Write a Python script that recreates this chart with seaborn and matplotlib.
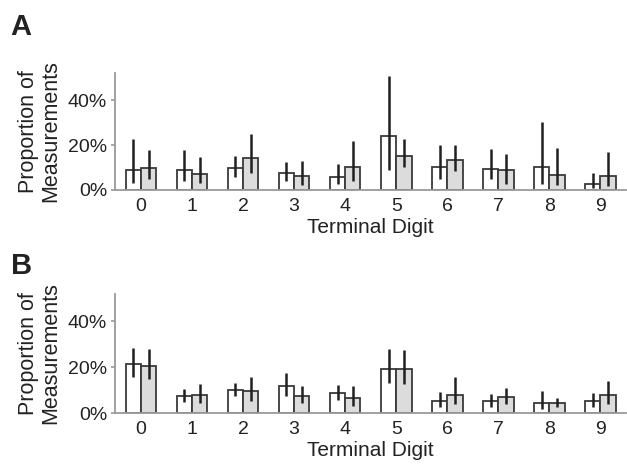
import numpy as np
import pandas as pd
import matplotlib
matplotlib.use("Agg")
import matplotlib.pyplot as plt
import seaborn as sns
from matplotlib.ticker import FixedLocator, PercentFormatter

digits = [str(d) for d in range(10)]
groups = ["white", "grey"]

# Panel A (percent)
a_white = [8.9, 8.9, 9.7, 7.4, 5.8, 24.1, 10.4, 9.4, 10.0, 2.8]
a_white_lo = [3.0, 4.2, 5.7, 4.2, 2.7, 8.9, 4.9, 4.8, 2.5, 1.0]
a_white_hi = [22.6, 17.9, 14.9, 12.4, 11.6, 50.9, 20.2, 18.2, 30.1, 7.6]
a_grey = [9.7, 7.0, 14.4, 6.4, 10.0, 15.3, 13.2, 8.8, 6.8, 6.1]
a_grey_lo = [4.8, 3.0, 7.7, 2.2, 4.0, 10.0, 8.6, 2.5, 2.2, 1.9]
a_grey_hi = [17.9, 14.6, 25.0, 13.1, 21.6, 22.8, 19.8, 15.9, 18.6, 17.1]

# Panel B (percent)
b_white = [21.5, 7.3, 10.2, 11.8, 8.6, 19.4, 5.1, 5.1, 4.4, 5.1]
b_white_lo = [15.6, 4.7, 7.3, 7.3, 5.7, 13.1, 2.5, 2.8, 1.8, 2.8]
b_white_hi = [28.3, 10.5, 13.0, 17.4, 12.3, 27.7, 9.3, 8.3, 9.5, 8.6]
b_grey = [20.7, 7.9, 9.5, 7.6, 6.6, 19.0, 7.9, 6.9, 4.4, 7.9]
b_grey_lo = [14.9, 4.4, 5.4, 4.4, 3.2, 12.7, 3.9, 3.9, 2.9, 3.9]
b_grey_hi = [28.0, 12.7, 15.6, 11.7, 12.0, 27.4, 15.9, 10.8, 6.6, 14.2]

panels = [
    ("A", a_white, a_white_lo, a_white_hi, a_grey, a_grey_lo, a_grey_hi),
    ("B", b_white, b_white_lo, b_white_hi, b_grey, b_grey_lo, b_grey_hi),
]

sns.set_style("white")
plt.rcParams["font.family"] = ["Liberation Sans", "DejaVu Sans"]

fig = plt.figure(figsize=(6.27, 4.69), dpi=100)
axes_rects = [[0.1842, 0.595, 0.814, 0.249], [0.1842, 0.119, 0.814, 0.255]]
letter_y = [0.942, 0.433]

spine_col = "#9a9a9a"
edge_col = "#3a3a3a"
text_col = "#222222"

for (label, w, wlo, whi, g, glo, ghi), rect, ly in zip(panels, axes_rects, letter_y):
    ax = fig.add_axes(rect)
    df = pd.DataFrame({
        "digit": digits * 2,
        "group": ["white"] * 10 + ["grey"] * 10,
        "value": list(w) + list(g),
    })
    sns.barplot(data=df, x="digit", y="value", hue="group", order=digits,
                hue_order=groups, palette={"white": "white", "grey": "#dcdcdc"},
                width=0.6, errorbar=None, edgecolor=edge_col, linewidth=1.3,
                legend=False, ax=ax)
    # error bars placed at the bar centres
    for cont, lo, hi in zip(ax.containers, [wlo, glo], [whi, ghi]):
        xs = [p.get_x() + p.get_width() / 2 for p in cont.patches]
        ax.vlines(xs, lo, hi, color="#202020", linewidth=1.8, zorder=5)
    ax.set_ylim(0, 52)
    ax.set_xlim(-0.5, 9.5)
    ax.set_yticks([0, 20, 40])
    ax.yaxis.set_major_formatter(PercentFormatter(decimals=0))
    ax.xaxis.set_minor_locator(FixedLocator(np.arange(-0.5, 9.6, 1.0)))
    ax.tick_params(axis="x", which="major", length=0, labelsize=14, pad=5.5, colors=text_col)
    ax.tick_params(axis="x", which="minor", length=3.5, width=1.2, color=spine_col, direction="out")
    ax.tick_params(axis="y", which="major", length=3, width=1.2, color=spine_col,
                   labelsize=14, pad=3, labelcolor=text_col, left=True)
    for s in ["top", "right"]:
        ax.spines[s].set_visible(False)
    for s in ["left", "bottom"]:
        ax.spines[s].set_color(spine_col)
        ax.spines[s].set_linewidth(1.3)
    ax.set_xlabel("Terminal Digit", fontsize=15, color=text_col, labelpad=2.5)
    ax.set_ylabel("Proportion of\nMeasurements", fontsize=15.5, color=text_col,
                  labelpad=5, linespacing=1.05)
    fig.text(0.017, ly, label, fontsize=21, fontweight="bold", color=text_col,
             ha="left", va="center")

fig.savefig("out.png", dpi=100, facecolor="white")
